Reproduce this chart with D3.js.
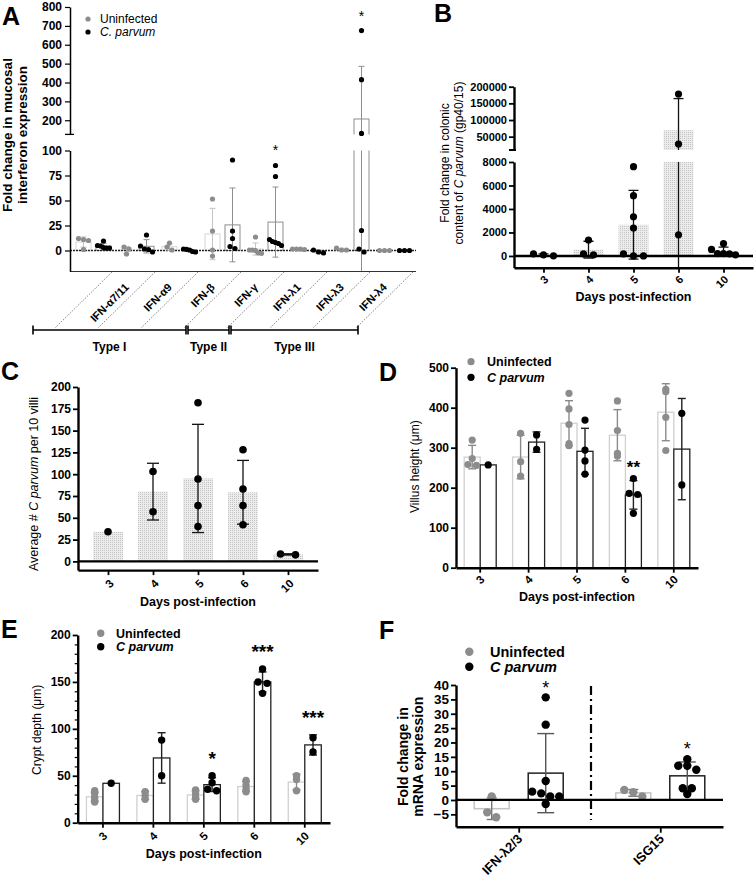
<!DOCTYPE html>
<html>
<head>
<meta charset="utf-8">
<script src="https://cdn.jsdelivr.net/npm/d3@7/dist/d3.min.js"></script>
<style>
html,body{margin:0;padding:0;background:#fff;}
svg{display:block;}
</style>
</head>
<body>
<svg id="chart" width="756" height="880"></svg>
<script>
// ================= DATA =================
// Panel A – fold change in mucosal interferon expression
const aCategories = ["", "IFN-α7/11", "IFN-α9", "IFN-β", "IFN-γ", "IFN-λ1", "IFN-λ3", "IFN-λ4"];
const aUninfected = [[12, 11, 10, 1], [3.5, 1.5, -3.5], [3.5, 7.5, 0.5], [51.5, 19.5, 0.5, -5.5],
                     [13.5, 0.5, 0.5, 0, -2.5, -3], [1.5, 1.5, 1.5, 1], [2.5, 0.5, 0.5], [0, 0, 0]];
const aCparvum = [[9.5, 5, 4.5, 3, 2.5, 2.5], [15.5, 4.5, 1.5, 1, -1.5], [1.5, 1.2, 0.5, -1, -1.5],
                  [90.5, 19.5, 12, 4, 2], [85, 74, 11, 9, 8, 7, 5], [0.5, -1.5, -2.5],
                  [675, 415, 130, 20, 1.5, -1.5], [0, 0, 0]];
const aSignif = ["", "", "", "", "*", "", "*", ""];
const aTicksUpper = [200, 300, 400, 500, 600, 700, 800];
const aTicksLower = [0, 25, 50, 75, 100];
const aTypeNames = ["Type I", "Type II", "Type III"];
const aTypeFirst = [1, 4, 5];
const aTypeLast = [3, 4, 7];

// Panel B – colonic C parvum content
const bDays = ["3", "4", "5", "6", "10"];
const bCparvum = [[180, 100, 10], [1360, 170, 85], [7600, 5130, 3340, 2380, 170, 0, 0],
                  [178000, 28000, 1800], [1050, 560, 200, 200, 180, 100]];
const bTicksUpper = [50000, 100000, 150000, 200000];
const bTicksLower = [0, 2000, 4000, 6000, 8000];

// Panel C – average C parvum per 10 villi
const cDays = ["3", "4", "5", "6", "10"];
const cCparvum = [[34], [103, 57], [182, 94.5, 64, 40], [128, 83, 64, 42], [8.5, 7.5]];
const cTicks = [0, 25, 50, 75, 100, 125, 150, 175, 200];

// Panel D – villus height
const dDays = ["3", "4", "5", "6", "10"];
const dUninfected = [[319, 273, 258, 256], [336, 265, 229], [436, 397, 358, 310, 305], [417, 343, 286, 279], [446, 440, 376, 293]];
const dCparvum = [[257], [332, 296], [369, 294, 267, 234], [223, 186, 183, 136], [386, 207]];
const dSignif = ["", "", "", "**", ""];
const dTicks = [0, 100, 200, 300, 400, 500];

// Panel E – crypt depth
const eDays = ["3", "4", "5", "6", "10"];
const eUninfected = [[34, 31, 27, 24, 22], [33, 29, 25], [35, 31, 27, 25], [45, 40, 36, 33], [50, 46, 34]];
const eCparvum = [[42], [88, 50], [50, 42.6, 35.6, 34], [163.7, 150, 148.5, 137.8], [90.5, 75.3]];
const eSignif = ["", "", "*", "***", "***"];
const eTicks = [0, 50, 100, 150, 200];

// Panel F – mRNA expression
const fGenes = ["IFN-λ2/3", "ISG15"];
const fUninfected = [[1.2, -4.3, -6.0], [3.5, 2.7, 1.2]];
const fCparvum = [[35.7, 26.2, 6.6, 2.9, 2.3, 1.2, 1.2, -1.4], [14.2, 11.9, 11.9, 10.5, 4.1, 4.1, 2.1]];
const fSignif = ["*", "*"];
const fTicks = [-5, 0, 5, 10, 15, 20, 25, 30, 35, 40];

const seriesNames = ["Uninfected", "C parvum"];

// ================= HELPERS =================
const FONT = '"Liberation Sans", Arial, Helvetica, sans-serif';
const GRAY = "#8c8c8c";
const svg = d3.select("#chart").attr("font-family", FONT);
const defs = svg.append("defs");
const pat = defs.append("pattern").attr("id", "hatch").attr("width", 2).attr("height", 2)
  .attr("patternUnits", "userSpaceOnUse");
pat.append("rect").attr("width", 2).attr("height", 2).attr("fill", "#ececec");
pat.append("rect").attr("width", 1).attr("height", 1).attr("fill", "#c4c4c4");

function addClip(id, x, y, w, h) {
  defs.append("clipPath").attr("id", id).append("rect")
    .attr("x", x).attr("y", y).attr("width", w).attr("height", h);
}
function stats(a) {
  return {m: d3.mean(a), sd: a.length > 1 ? d3.deviation(a) : 0};
}
function swarm(vals, yf, cx, o) {
  const pts = vals.map(v => ({v, y: yf(v)})).sort((a, b) => a.y - b.y);
  const out = []; let cl = [];
  const flush = () => {
    const n = cl.length;
    const st = n > 1 ? Math.min(o.d, o.maxW / (n - 1)) : 0;
    cl.forEach((p, j) => out.push({v: p.v, y: p.y, x: cx + (j - (n - 1) / 2) * st}));
    cl = [];
  };
  pts.forEach(p => { if (cl.length && p.y - cl[cl.length - 1].y >= o.thresh) flush(); cl.push(p); });
  flush();
  return out;
}
function drawDots(g, pts, r, fill) {
  g.selectAll(null).data(pts).join("circle")
    .attr("cx", d => d.x).attr("cy", d => d.y).attr("r", r).attr("fill", fill);
}
function errBar(g, cx, y1, y2, cap, stroke, sw) {
  g.append("line").attr("x1", cx).attr("x2", cx).attr("y1", y1).attr("y2", y2)
    .attr("stroke", stroke).attr("stroke-width", sw);
  [y1, y2].forEach(yy => g.append("line").attr("x1", cx - cap / 2).attr("x2", cx + cap / 2)
    .attr("y1", yy).attr("y2", yy).attr("stroke", stroke).attr("stroke-width", sw));
}
function label(g, x, y, parts, o) {
  const t = g.append("text").attr("x", x).attr("y", y).attr("font-size", o.size)
    .attr("font-weight", o.weight || "normal").attr("text-anchor", o.anchor || "start")
    .attr("fill", o.fill || "#000");
  if (o.transform) t.attr("transform", o.transform);
  (typeof parts === "string" ? [[parts, false]] : parts).forEach(([s, it]) =>
    t.append("tspan").attr("font-style", it ? "italic" : "normal").text(s));
  return t;
}
function rotLabel(g, x, y, parts, o) {
  return label(g, 0, 0, parts, Object.assign({}, o, {anchor: "middle", transform: `translate(${x},${y}) rotate(-90)`}));
}
function styleAxis(ax, size, sw) {
  ax.attr("font-family", FONT).attr("font-size", size).attr("font-weight", "bold");
  ax.select(".domain").attr("stroke-width", sw).attr("stroke", "#000");
  ax.selectAll(".tick line").attr("stroke-width", Math.max(1.2, sw * 0.75)).attr("stroke", "#000");
  ax.selectAll(".tick text").attr("fill", "#000");
}
function rotTicks(ax, dx, dy) {
  ax.selectAll(".tick text").attr("x", 0).attr("y", 0).attr("dy", null)
    .attr("text-anchor", "end").attr("transform", `translate(${dx},${dy}) rotate(-45)`);
}
function star(g, x, yTop, s, size, gap, weight) {
  if (!s) return;
  label(g, x, yTop - gap + 0.57 * size, s, {size, anchor: "middle", weight: weight || "normal"});
}
function legend(g, x, ys, r, size, weight, tx) {
  [GRAY, "#000"].forEach((c, i) => {
    g.append("circle").attr("cx", x).attr("cy", ys[i]).attr("r", r).attr("fill", c);
    label(g, tx, ys[i] + size * 0.36, [[i === 0 ? seriesNames[0] : seriesNames[1], i === 1]],
      {size, weight});
  });
}
function panelLetter(s, x, y) {
  label(svg, x, y, s, {size: 25, weight: "bold"});
}

// ================= PANEL A =================
(function () {
  const g = svg.append("g");
  const x = d3.scaleBand().domain(aCategories).range([72, 416]);
  const step = x.step();
  const yU = d3.scaleLinear().domain([125, 800]).range([134.4, 7]);
  const yL = d3.scaleLinear().domain([-21, 100]).range([271.5, 150.5]);
  const y = v => v > 112 ? yU(v) : yL(v);
  addClip("cAU", 60, 0, 370, 134.4);
  addClip("cAL", 60, 150.5, 370, 121.5);
  const segs = [{s: yU, c: "cAU"}, {s: yL, c: "cAL"}];
  const barG = segs.map(sg => g.append("g").attr("clip-path", `url(#${sg.c})`));
  const lineG = g.append("g");
  const errG = segs.map(sg => g.append("g").attr("clip-path", `url(#${sg.c})`));
  const dotG = g.append("g");
  const groups = [
    {data: aUninfected, off: -10, dot: GRAY, bar: "#d6d6d6", err: "#c4c4c4"},
    {data: aCparvum, off: 10, dot: "#000", bar: "#8e8e8e", err: "#8e8e8e"}
  ];
  const bw = 15;
  groups.forEach((gr, gi) => {
    aCategories.forEach((c, i) => {
      const {m, sd} = stats(gr.data[i]);
      const cx = x(c) + step / 2 + gr.off;
      segs.forEach((sg, k) => {
        const y0 = sg.s(Math.max(m, 0)), y1 = sg.s(Math.min(m, 0));
        barG[k].append("rect").attr("x", cx - bw / 2).attr("y", y0).attr("width", bw)
          .attr("height", Math.max(0.1, y1 - y0)).attr("fill", "#fff").attr("fill-opacity", 0)
          .attr("stroke", gr.bar).attr("stroke-width", 1);
        errBar(errG[k], cx, sg.s(m + sd), sg.s(m - sd), 6, gr.err, 1);
      });
      const pts = swarm(gr.data[i], y, cx, {d: 5, thresh: 3.5, maxW: 12});
      drawDots(dotG, pts, 2.6, gr.dot);
      if (gi === 1) star(g, cx, d3.min(pts, p => p.y), aSignif[i], 14, 18);
    });
  });
  // zero line and lower frame
  lineG.append("line").attr("x1", 70).attr("x2", 416).attr("y1", yL(0)).attr("y2", yL(0))
    .attr("stroke", "#222").attr("stroke-width", 1.3).attr("stroke-dasharray", "2,1");
  g.append("line").attr("x1", 70).attr("x2", 416).attr("y1", yL(-21)).attr("y2", yL(-21))
    .attr("stroke", "#333").attr("stroke-width", 1.2);
  // axes
  const axU = g.append("g").attr("transform", "translate(70,0)")
    .call(d3.axisLeft(yU).tickValues(aTicksUpper).tickSize(5).tickSizeOuter(0).tickPadding(3));
  const axL = g.append("g").attr("transform", "translate(70,0)")
    .call(d3.axisLeft(yL).tickValues(aTicksLower).tickSize(5).tickSizeOuter(0).tickPadding(3));
  [axU, axL].forEach(a => styleAxis(a, 12, 1.5));
  g.append("line").attr("x1", 65).attr("x2", 74).attr("y1", 134.4).attr("y2", 134.4)
    .attr("stroke", "#000").attr("stroke-width", 1.3);
  // diagonal separators & labels
  const x0 = x.range()[0];
  const topX = k => x0 + step * (k + 1) - 3;
  const botX = k => topX(k) - 57;
  for (let k = 0; k < aCategories.length; k++) {
    g.append("line").attr("x1", topX(k)).attr("y1", 272).attr("x2", botX(k)).attr("y2", 328)
      .attr("stroke", "#333").attr("stroke-width", 0.8).attr("stroke-dasharray", "1,1.6");
  }
  aCategories.forEach((c) => {
    if (!c) return;
    label(g, 0, 0, c, {size: 11, weight: "bold", anchor: "end",
      transform: `translate(${x(c) + step / 2 - 7},288) rotate(-45)`});
  });
  // type brackets
  aTypeNames.forEach((nm, t) => {
    const xa = t === 0 ? botX(0) - 22 : botX(aTypeFirst[t] - 1) + 4;
    const xb = botX(aTypeLast[t]) + 2;
    g.append("line").attr("x1", xa).attr("x2", xb).attr("y1", 330).attr("y2", 330)
      .attr("stroke", "#000").attr("stroke-width", 1.6);
    [xa, xb].forEach(xx => g.append("line").attr("x1", xx).attr("x2", xx).attr("y1", 325.5).attr("y2", 334.5)
      .attr("stroke", "#000").attr("stroke-width", 1.6));
    label(g, (xa + xb) / 2, 351, nm, {size: 12, weight: "bold", anchor: "middle"});
  });
  // title & legend
  rotLabel(g, 12, 135, "Fold change in mucosal", {size: 13.5, weight: "bold"});
  rotLabel(g, 27, 135, "interferon expression", {size: 13.5, weight: "bold"});
  [GRAY, "#000"].forEach((c, i) => {
    g.append("circle").attr("cx", 88).attr("cy", i ? 32 : 19).attr("r", 2.6).attr("fill", c);
  });
  label(g, 100, 23, "Uninfected", {size: 12});
  label(g, 100, 36, [["C. parvum", true]], {size: 12});
  panelLetter("A", 2, 25);
})();

// ================= PANEL B =================
(function () {
  const g = svg.append("g");
  const x = d3.scalePoint().domain(bDays).range([514, 753]).padding(0.655);
  const yU = d3.scaleLinear().domain([10000, 200000]).range([150, 86.7]);
  const yL = d3.scaleLinear().domain([-1000, 8000]).range([267.7, 162]);
  const y = v => v > 9000 ? yU(v) : yL(v);
  addClip("cBU", 500, 80, 260, 70);
  addClip("cBL", 500, 162, 260, 105.7);
  const segs = [{s: yU, c: "cBU"}, {s: yL, c: "cBL"}];
  const barG = segs.map(sg => g.append("g").attr("clip-path", `url(#${sg.c})`));
  const errG = segs.map(sg => g.append("g").attr("clip-path", `url(#${sg.c})`));
  const dotG = g.append("g");
  bDays.forEach((d, i) => {
    const {m, sd} = stats(bCparvum[i]);
    const cx = x(d);
    segs.forEach((sg, k) => {
      const y0 = sg.s(Math.max(m, 0)), y1 = sg.s(0);
      barG[k].append("rect").attr("x", cx - 15).attr("y", y0).attr("width", 30)
        .attr("height", Math.max(0, y1 - y0)).attr("fill", "url(#hatch)");
      errBar(errG[k], cx, sg.s(m + sd), sg.s(m - sd), 10, "#111", 1.3);
    });
    drawDots(dotG, swarm(bCparvum[i], y, cx, {d: 10, thresh: 4.6, maxW: 24}), 3.6, "#000");
  });
  g.append("line").attr("x1", 514).attr("x2", 753).attr("y1", yL(0)).attr("y2", yL(0))
    .attr("stroke", "#000").attr("stroke-width", 2.4);
  const axX = g.append("g").attr("transform", `translate(0,${yL(-1000)})`)
    .call(d3.axisBottom(x).tickSize(5).tickSizeOuter(0));
  styleAxis(axX, 11, 2.4);
  rotTicks(axX, 5, 12.5);
  const fmt = d3.format("d");
  const axU = g.append("g").attr("transform", "translate(514,0)")
    .call(d3.axisLeft(yU).tickValues(bTicksUpper).tickFormat(fmt).tickSize(5).tickSizeOuter(0).tickPadding(2));
  const axL = g.append("g").attr("transform", "translate(514,0)")
    .call(d3.axisLeft(yL).tickValues(bTicksLower).tickFormat(fmt).tickSize(5).tickSizeOuter(0).tickPadding(2));
  [axU, axL].forEach(a => styleAxis(a, 11, 2.4));
  g.append("line").attr("x1", 509).attr("x2", 516).attr("y1", 150).attr("y2", 150)
    .attr("stroke", "#000").attr("stroke-width", 2);
  rotLabel(g, 449, 163, "Fold change in colonic", {size: 12});
  rotLabel(g, 462.5, 163, [["content of ", false], ["C parvum", true], [" (gp40/15)", false]], {size: 12});
  label(g, 633.5, 301, "Days post-infection", {size: 12.5, weight: "bold", anchor: "middle"});
  panelLetter("B", 434, 22);
})();

// ================= PANEL C =================
(function () {
  const g = svg.append("g");
  const x = d3.scalePoint().domain(cDays).range([78, 318]).padding(0.667);
  const y = d3.scaleLinear().domain([-10, 200]).range([570.1, 387]);
  const barG = g.append("g"), errG = g.append("g"), dotG = g.append("g");
  cDays.forEach((d, i) => {
    const {m, sd} = stats(cCparvum[i]);
    const cx = x(d);
    barG.append("rect").attr("x", cx - 15).attr("y", y(m)).attr("width", 30)
      .attr("height", y(0) - y(m)).attr("fill", "url(#hatch)");
    if (sd > 0) errBar(errG, cx, y(m + sd), y(m - sd), 12, "#111", 1.3);
    drawDots(dotG, swarm(cCparvum[i], y, cx, {d: 15, thresh: 3, maxW: 24}), 3.8, "#000");
  });
  // the two day-10 points are joined in the original
  g.append("line").attr("x1", x("10") - 7.5).attr("x2", x("10") + 7.5)
    .attr("y1", y(stats(cCparvum[4]).m)).attr("y2", y(stats(cCparvum[4]).m))
    .attr("stroke", "#111").attr("stroke-width", 1.3);
  g.append("line").attr("x1", 78).attr("x2", 318).attr("y1", y(0)).attr("y2", y(0))
    .attr("stroke", "#000").attr("stroke-width", 2.4);
  const axX = g.append("g").attr("transform", `translate(0,${y(-10)})`)
    .call(d3.axisBottom(x).tickSize(5).tickSizeOuter(0));
  styleAxis(axX, 11.5, 2.4);
  rotTicks(axX, 6, 14);
  const axY = g.append("g").attr("transform", "translate(78,0)")
    .call(d3.axisLeft(y).tickValues(cTicks).tickSize(5).tickSizeOuter(0).tickPadding(2));
  styleAxis(axY, 12, 2.4);
  rotLabel(g, 38, 484, [["Average # ", false], ["C parvum", true], [" per 10 villi", false]], {size: 12.5});
  label(g, 198, 606, "Days post-infection", {size: 12.5, weight: "bold", anchor: "middle"});
  panelLetter("C", 1, 380);
})();

// ================= PANELS D & E (grouped bars) =================
function groupedPanel(cfg) {
  const g = svg.append("g");
  const x = d3.scaleBand().domain(cfg.days).range(cfg.xr);
  const y = d3.scaleLinear().domain(cfg.yd).range(cfg.yr);
  const barG = g.append("g"), errG = g.append("g"), dotG = g.append("g");
  const bw = cfg.bw;
  const series = [
    {data: cfg.unin, off: -bw / 2, dot: GRAY, bar: "#d0d0d0", err: "#8a8a8a"},
    {data: cfg.cp, off: bw / 2, dot: "#000", bar: "#222", err: "#222"}
  ];
  series.forEach((s, si) => {
    cfg.days.forEach((d, i) => {
      const {m, sd} = stats(s.data[i]);
      const cx = x(d) + x.bandwidth() / 2 + s.off;
      barG.append("rect").attr("x", cx - bw / 2).attr("y", y(m)).attr("width", bw)
        .attr("height", y(0) - y(m)).attr("fill", "#fff")
        .attr("stroke", s.bar).attr("stroke-width", 1.3);
      if (sd > 0) errBar(errG, cx, y(m + sd), y(m - sd), 8, s.err, 1.4);
      const pts = swarm(s.data[i], y, cx, {d: cfg.d, thresh: 1.8, maxW: 18});
      drawDots(dotG, pts, cfg.r, s.dot);
      if (si === 1) star(g, cx, Math.min(d3.min(pts, p => p.y), y(m + sd)), cfg.signif[i], cfg.starSize, cfg.starGap, "bold");
    });
  });
  const axX = g.append("g").attr("transform", `translate(0,${cfg.yr[0]})`)
    .call(d3.axisBottom(x).tickSize(5).tickSizeOuter(0));
  styleAxis(axX, 11.5, 2.4);
  rotTicks(axX, 5, cfg.tickDy);
  const axY = g.append("g").attr("transform", `translate(${cfg.xr[0]},0)`)
    .call(d3.axisLeft(y).tickValues(cfg.ticks).tickSize(5).tickSizeOuter(0).tickPadding(2));
  styleAxis(axY, 12, 2.4);
  if (cfg.minor) {
    const axM = g.append("g").attr("transform", `translate(${cfg.xr[0]},0)`)
      .call(d3.axisLeft(y).tickValues(cfg.minor).tickSize(3).tickFormat(""));
    axM.select(".domain").remove();
    axM.selectAll(".tick line").attr("stroke", "#000").attr("stroke-width", 1.2);
  }
  rotLabel(g, cfg.titleX, (cfg.yr[0] + cfg.yr[1]) / 2 + cfg.titleShift, cfg.title, {size: 12});
  label(g, (cfg.xr[0] + cfg.xr[1]) / 2, cfg.xTitleY, "Days post-infection", {size: 12.5, weight: "bold", anchor: "middle"});
  legend(g, cfg.legX, cfg.legY, cfg.r, 12.5, "bold", cfg.legTx);
  panelLetter(cfg.letter, cfg.letterX, cfg.letterY);
}
groupedPanel({
  days: dDays, unin: dUninfected, cp: dCparvum, signif: dSignif, ticks: dTicks,
  xr: [456, 698], yd: [0, 500], yr: [567.7, 367.7], bw: 16, r: 3.6, d: 8.5,
  starSize: 17, starGap: 15, tickDy: 12.5,
  title: "Villus height (μm)", titleX: 419, titleShift: -1, xTitleY: 601,
  legX: 471, legY: [361.7, 377.3], legTx: 487, letter: "D", letterX: 379, letterY: 381
});
groupedPanel({
  days: eDays, unin: eUninfected, cp: eCparvum, signif: eSignif, ticks: eTicks,
  minor: d3.range(0, 201, 10).filter(v => v % 50 !== 0),
  xr: [77.7, 330], yd: [0, 200], yr: [822.7, 635], bw: 16.5, r: 3.7, d: 9,
  starSize: 19, starGap: 22, tickDy: 14,
  title: "Crypt depth (μm)", titleX: 41, titleShift: 1, xTitleY: 858,
  legX: 100.7, legY: [633.3, 646.7], legTx: 116, letter: "E", letterX: 1, letterY: 638
});

// ================= PANEL F =================
(function () {
  const g = svg.append("g");
  const x = d3.scalePoint().domain(fGenes).range([456, 723]).padding(0.443);
  const y = d3.scaleLinear().domain([-9.3, 40]).range([826.7, 685]);
  const barG = g.append("g"), errG = g.append("g"), dotG = g.append("g");
  const bw = 35;
  const series = [
    {data: fUninfected, off: -27, dot: GRAY, bar: "#c4c4c4", err: "#777", cap: 10},
    {data: fCparvum, off: 27, dot: "#000", bar: "#222", err: "#555", cap: 17}
  ];
  series.forEach((s, si) => {
    fGenes.forEach((gn, i) => {
      const {m, sd} = stats(s.data[i]);
      const cx = x(gn) + s.off;
      const y0 = y(Math.max(m, 0)), y1 = y(Math.min(m, 0));
      barG.append("rect").attr("x", cx - bw / 2).attr("y", y0).attr("width", bw)
        .attr("height", y1 - y0).attr("fill", "#fff").attr("stroke", s.bar).attr("stroke-width", 1.5);
      errBar(errG, cx, y(m + sd), y(m - sd), s.cap, s.err, 1.4);
      const pts = swarm(s.data[i], y, cx, {d: 9, thresh: 5, maxW: 30});
      drawDots(dotG, pts, 4.2, s.dot);
      if (si === 1) star(g, cx, d3.min(pts, p => p.y), fSignif[i], 18, 14);
    });
  });
  g.append("line").attr("x1", 456).attr("x2", 723).attr("y1", y(0)).attr("y2", y(0))
    .attr("stroke", "#000").attr("stroke-width", 2.2);
  g.append("line").attr("x1", 591).attr("x2", 591).attr("y1", 686).attr("y2", 820)
    .attr("stroke", "#000").attr("stroke-width", 2.2).attr("stroke-dasharray", "9,4,2,4");
  const axX = g.append("g").attr("transform", `translate(0,${y(-9.3)})`)
    .call(d3.axisBottom(x).tickSize(6).tickSizeOuter(0));
  styleAxis(axX, 13, 2.4);
  rotTicks(axX, 4, 13);
  const axY = g.append("g").attr("transform", "translate(456,0)")
    .call(d3.axisLeft(y).tickValues(fTicks).tickSize(5).tickSizeOuter(0).tickPadding(2));
  styleAxis(axY, 13.5, 2.4);
  rotLabel(g, 408, 756.7, "Fold change in", {size: 14, weight: "bold"});
  rotLabel(g, 423, 756.7, "mRNA expression", {size: 14, weight: "bold"});
  legend(g, 469.3, [651.7, 666.7], 4.2, 14.5, "bold", 490);
  panelLetter("F", 379, 639);
})();
</script>
</body>
</html>
